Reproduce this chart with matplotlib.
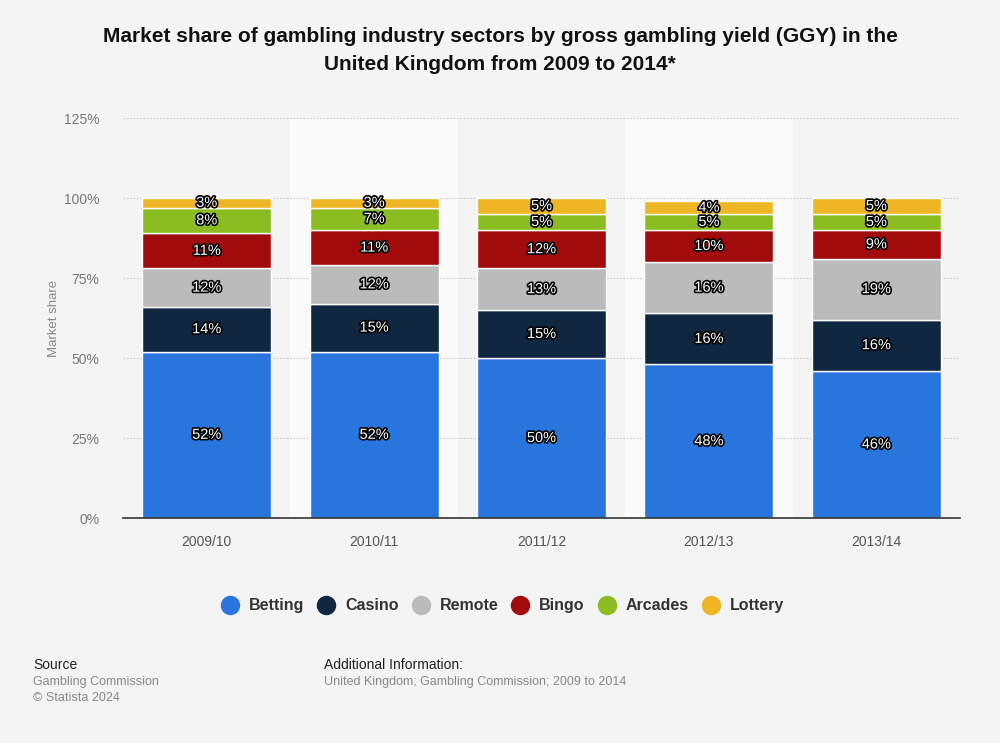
"""Stacked market share bars for UK gambling sectors, 2009-2014."""

import matplotlib

matplotlib.use("Agg")
import matplotlib.pyplot as plt
import matplotlib.patheffects as pe
import numpy as np
from matplotlib.lines import Line2D

years = ["2009/10", "2010/11", "2011/12", "2012/13", "2013/14"]
sectors = ["Betting", "Casino", "Remote", "Bingo", "Arcades", "Lottery"]
betting = [52, 52, 50, 48, 46]
casino = [14, 15, 15, 16, 16]
remote = [12, 12, 13, 16, 19]
bingo = [11, 11, 12, 10, 9]
arcades = [8, 7, 5, 5, 5]
lottery = [3, 3, 5, 4, 5]
y_ticks = [0, 25, 50, 75, 100, 125]

colors = ["#2876dd", "#0f2740", "#bbbbbb", "#a20b0b", "#8bbd22", "#eeb525"]
series = [betting, casino, remote, bingo, arcades, lottery]

plt.rcParams["font.family"] = ["Liberation Sans", "DejaVu Sans"]

fig = plt.figure(figsize=(10, 7.43), dpi=100)
fig.patch.set_facecolor("#f4f4f4")
axis = fig.add_axes([0.123, 1 - 518 / 743, 0.837, 400 / 743])
axis.set_facecolor("#f4f4f4")

x = np.arange(len(years))
for index in x:
	if index % 2 == 1:
		axis.axvspan(index - 0.5, index + 0.5, color="#fafafa", zorder=0, lw=0)

for value in y_ticks[1:]:
	axis.axhline(value, color="#cccccc", lw=0.8, ls=(0, (1.5, 1.5)), zorder=1)

bottom = np.zeros(len(years))
outline = [pe.withStroke(linewidth=2.4, foreground="black")]
for name, values, color in zip(sectors, series, colors):
	values = np.asarray(values, dtype=float)
	axis.bar(x, values, bottom=bottom, width=0.77, color=color,
		edgecolor="white", linewidth=1.0, zorder=2)
	for xi, b, v in zip(x, bottom, values):
		axis.text(xi, b + v / 2, f"{int(v)}%", ha="center", va="center",
			color="white", fontsize=10.5, zorder=3, path_effects=outline)
	bottom += values

axis.set_xlim(-0.5, len(years) - 0.5)
axis.set_ylim(0, 125)
axis.set_xticks(x)
axis.set_xticklabels(years, color="#555555", fontsize=10)
axis.set_yticks(y_ticks)
axis.set_yticklabels([f"{v}%" for v in y_ticks], color="#777777", fontsize=10)
axis.tick_params(axis="both", length=0)
axis.tick_params(axis="x", pad=12)
axis.tick_params(axis="y", pad=17)
for side in ["top", "right", "left"]:
	axis.spines[side].set_visible(False)
axis.spines["bottom"].set_color("#333333")
axis.spines["bottom"].set_linewidth(1.2)
axis.set_ylabel("Market share", color="#888888", fontsize=9.5, labelpad=3)

fig.text(0.5, 1 - 36 / 743, "Market share of gambling industry sectors by gross gambling yield (GGY) in the",
	ha="center", va="center", fontsize=15, fontweight="bold", color="#111111")
fig.text(0.5, 1 - 64 / 743, "United Kingdom from 2009 to 2014*",
	ha="center", va="center", fontsize=15, fontweight="bold", color="#111111")

# legend drawn by hand so all labels share one baseline
renderer = fig.canvas.get_renderer()
fig_width = fig.get_figwidth() * fig.dpi
legend_y = 1 - 605 / 743
baseline_y = legend_y - 5 / 743
marker_gap = 19
item_gap = 22
labels = []
for name in sectors:
	label = fig.text(0, baseline_y, name, fontsize=11.5, fontweight="bold",
		color="#333333", va="baseline", ha="left")
	labels.append(label)
widths = [label.get_window_extent(renderer).width for label in labels]
total = sum(marker_gap + w for w in widths) + item_gap * (len(sectors) - 1)
cursor = (fig_width - total) / 2 + 7
for label, width, color in zip(labels, widths, colors):
	fig.add_artist(Line2D([cursor / fig_width], [legend_y], marker="o", ls="",
		markersize=13, markerfacecolor=color, markeredgecolor=color,
		transform=fig.transFigure))
	label.set_x((cursor + marker_gap) / fig_width)
	cursor += marker_gap + width + item_gap

fig.text(0.033, 1 - 665 / 743, "Source", fontsize=10, color="#222222", va="center")
fig.text(0.033, 1 - 682 / 743, "Gambling Commission", fontsize=9, color="#888888", va="center")
fig.text(0.033, 1 - 698 / 743, "© Statista 2024", fontsize=9, color="#888888", va="center")
fig.text(0.324, 1 - 665 / 743, "Additional Information:", fontsize=10, color="#222222", va="center")
fig.text(0.324, 1 - 682 / 743, "United Kingdom; Gambling Commission; 2009 to 2014",
	fontsize=9, color="#888888", va="center")

fig.savefig("out.png", dpi=100, facecolor=fig.get_facecolor())
